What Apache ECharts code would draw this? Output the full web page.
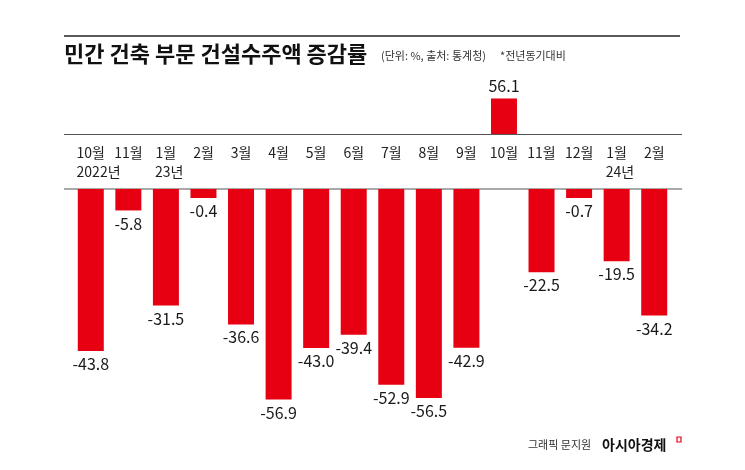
<!DOCTYPE html>
<html>
<head>
<meta charset="utf-8">
<script src="https://cdn.jsdelivr.net/npm/echarts@6/dist/echarts.min.js"></script>
<style>html,body{margin:0;padding:0;background:#fff}#c{width:745px;height:470px}</style>
</head>
<body>
<div id="c"></div>
<script>
var months = ['10월','11월','1월','2월','3월','4월','5월','6월','7월','8월','9월','10월','11월','12월','1월','2월'];
var years = ['2022년','','23년','','','','','','','','','','','','24년',''];
var values = [-43.8,-5.8,-31.5,-0.4,-36.6,-56.9,-43.0,-39.4,-52.9,-56.5,-42.9,56.1,-22.5,-0.7,-19.5,-34.2];

var FONT = 'Noto Sans CJK KR';
var RED = '#e60012';
var posVals = values.map(function(v){ return v > 0 ? v : null; });
var negVals = values.map(function(v){ return v < 0 ? v : null; });

var chart = echarts.init(document.getElementById('c'));
chart.setOption({
  backgroundColor: '#fff',
  animation: false,
  textStyle: { fontFamily: FONT },
  grid: [
    { left: 72, right: 72, top: 96, height: 38 },
    { left: 72, right: 72, top: 189, height: 222 }
  ],
  xAxis: [
    { type: 'category', gridIndex: 0, data: months, axisLine: {show: false}, axisTick: {show: false}, axisLabel: {show: false} },
    { type: 'category', gridIndex: 1, position: 'top', data: months,
      axisLine: {show: false}, axisTick: {show: false},
      axisLabel: {
        interval: 0, margin: 8,
        formatter: function (v, i) {
          var y = years[i];
          var w = months[i].length > 2 ? 'a' : 'b';
          return '{m|' + v + '}\n{' + (y ? 'y' + w : 'e') + '|' + (y || ' ') + '}';
        },
        rich: {
          m: { fontSize: 14, lineHeight: 19, color: '#222', fontFamily: FONT },
          ya: { fontSize: 14, lineHeight: 19, color: '#222', fontFamily: FONT, width: 28, align: 'left' },
          yb: { fontSize: 14, lineHeight: 19, color: '#222', fontFamily: FONT, width: 22, align: 'left' },
          e: { fontSize: 14, lineHeight: 19 }
        }
      }
    }
  ],
  yAxis: [
    { type: 'value', gridIndex: 0, min: 0, max: 60, show: false },
    { type: 'value', gridIndex: 1, min: -60, max: 0, show: false }
  ],
  series: [
    { type: 'bar', xAxisIndex: 0, yAxisIndex: 0, data: posVals, barWidth: 26,
      itemStyle: { color: RED },
      label: { show: true, position: 'top', distance: 5, fontSize: 16, color: '#1a1a1a', fontFamily: FONT,
        formatter: function (p) { return p.value.toFixed(1); } } },
    { type: 'bar', xAxisIndex: 1, yAxisIndex: 1, data: negVals, barWidth: 26, barMinHeight: 9,
      itemStyle: { color: RED },
      label: { show: true, position: 'bottom', distance: 5, fontSize: 16, color: '#1a1a1a', fontFamily: FONT,
        formatter: function (p) { return p.value.toFixed(1); } } }
  ],
  graphic: [
    { type: 'line', shape: { x1: 64, y1: 36, x2: 680, y2: 36 }, style: { stroke: '#222', lineWidth: 1.6 } },
    { type: 'line', shape: { x1: 64, y1: 134.5, x2: 682, y2: 134.5 }, style: { stroke: '#555', lineWidth: 1.2 } },
    { type: 'line', shape: { x1: 64, y1: 189, x2: 682, y2: 189 }, style: { stroke: '#555', lineWidth: 1.2 } },
    { type: 'text', x: 64, y: 54, style: { text: '민간 건축 부문 건설수주액 증감률', font: 'bold 22px "Noto Sans CJK KR"', fill: '#111', textVerticalAlign: 'middle' } },
    { type: 'text', x: 381, y: 56, style: { text: '(단위: %, 출처: 통계청)', font: '11px "Noto Sans CJK KR"', fill: '#333', textVerticalAlign: 'middle' } },
    { type: 'text', x: 500, y: 56, style: { text: '*전년동기대비', font: '11px "Noto Sans CJK KR"', fill: '#333', textVerticalAlign: 'middle' } },
    { type: 'text', x: 528, y: 445, style: { text: '그래픽 문지원', font: '11px "Noto Sans CJK KR"', fill: '#333', textVerticalAlign: 'middle' } },
    { type: 'text', x: 602, y: 445, style: { text: '아시아경제', font: 'bold 14px "Noto Sans CJK KR"', fill: '#111', textVerticalAlign: 'middle' } },
    { type: 'rect', shape: { x: 677, y: 437, width: 4, height: 5 }, style: { fill: 'none', stroke: RED, lineWidth: 1.2 } }
  ]
});
</script>
</body>
</html>
